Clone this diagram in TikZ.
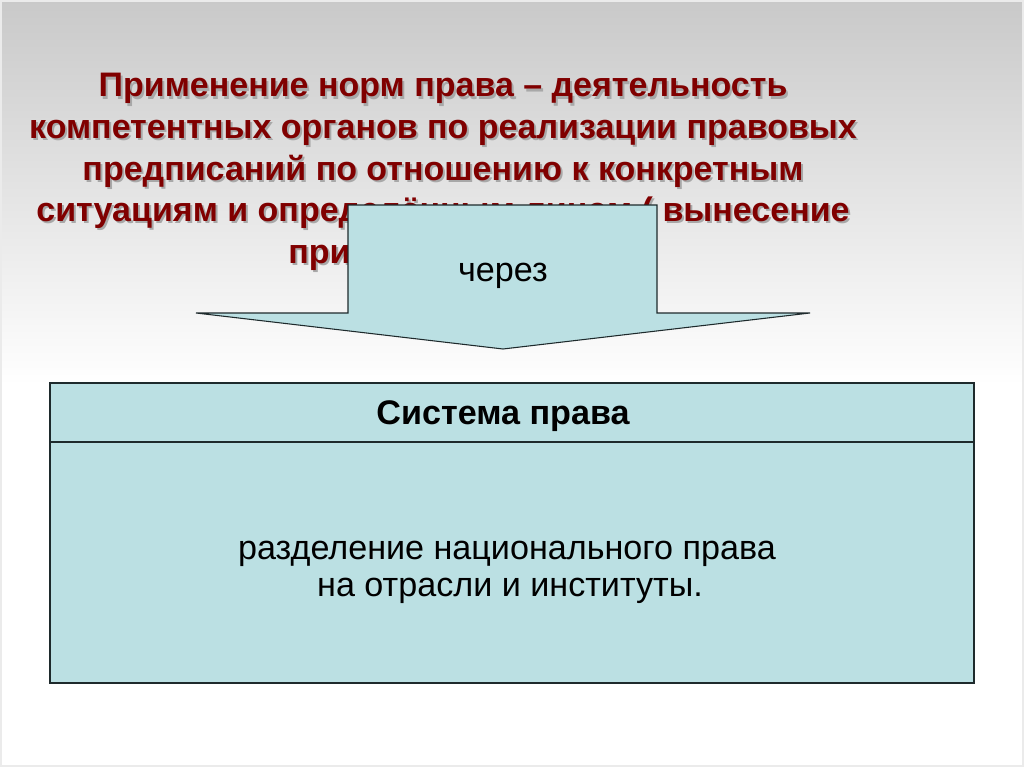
\documentclass[tikz,border=0pt]{standalone}
\usepackage{fontspec}
\setmainfont{Liberation Sans}
\usepackage{tikz}
\usetikzlibrary{positioning,calc}
\definecolor{Maroon}{HTML}{800000}
\definecolor{Shade}{HTML}{A8A8A8}
\definecolor{Aqua}{HTML}{BBE0E3}
\definecolor{Edge}{HTML}{1E2A2C}
\definecolor{Top}{HTML}{C9C9C9}
\tikzset{
  titletext/.style={font=\fontsize{25.5}{31}\selectfont\bfseries,inner sep=0pt},
  aquabox/.style={draw=Edge,fill=Aqua,line width=1pt},
  plain/.style={text=black,font=\fontsize{25.6}{28}\selectfont,align=center,inner sep=0pt}
}

\begin{document}
\begin{tikzpicture}[x=0.75pt,y=-0.75pt]
  \useasboundingbox (0,0) rectangle (1024,767);
  \fill[white] (0,0) rectangle (1024,767);
  \shade[top color=Top,bottom color=white] (0,0) rectangle (1024,385);
  \draw[black!8,line width=1pt] (1,1) rectangle (1023,766);
  % title, with its shadow first
  \foreach \sh/\col in {2/Shade,0/Maroon}{
    \begin{scope}[shift={(\sh,\sh)},every node/.style={titletext,text=\col,anchor=base}]
      \node (l1) at (443,97) {Применение норм права – деятельность};
      \node (l2) at (443,138) {компетентных органов по реализации правовых};
      \node (l3) at (443,180) {предписаний по отношению к конкретным};
      \node (l4) at (443,221) {ситуациям и определённым лицам ( вынесение};
      \node[anchor=base west] (l5) at (288,263) {приговора, решения)};
    \end{scope}
  }
  % arrow
  \draw[aquabox,line width=0.8pt] (348,205) -- (657,205) -- (657,313) -- (810,313) -- (503,349)
    -- (196,313) -- (348,313) -- cycle;
  \node[plain,anchor=base] (via) at (503,281) {через};
  % system box
  \node[aquabox,minimum width=924*0.75pt,minimum height=300*0.75pt,inner sep=0pt] (sys) at (512,533) {};
  \draw[Edge,line width=1pt] (sys.west |- 0,442) -- (sys.east |- 0,442);
  \node[plain,font=\fontsize{25.6}{28}\selectfont\bfseries,anchor=base] (head) at (503,424) {Система права};
  \node[plain,anchor=base] (body1) at (507,559) {разделение национального права};
  \node[plain,anchor=base] (body2) at (510,596) {на отрасли и институты.};
\end{tikzpicture}
\end{document}
